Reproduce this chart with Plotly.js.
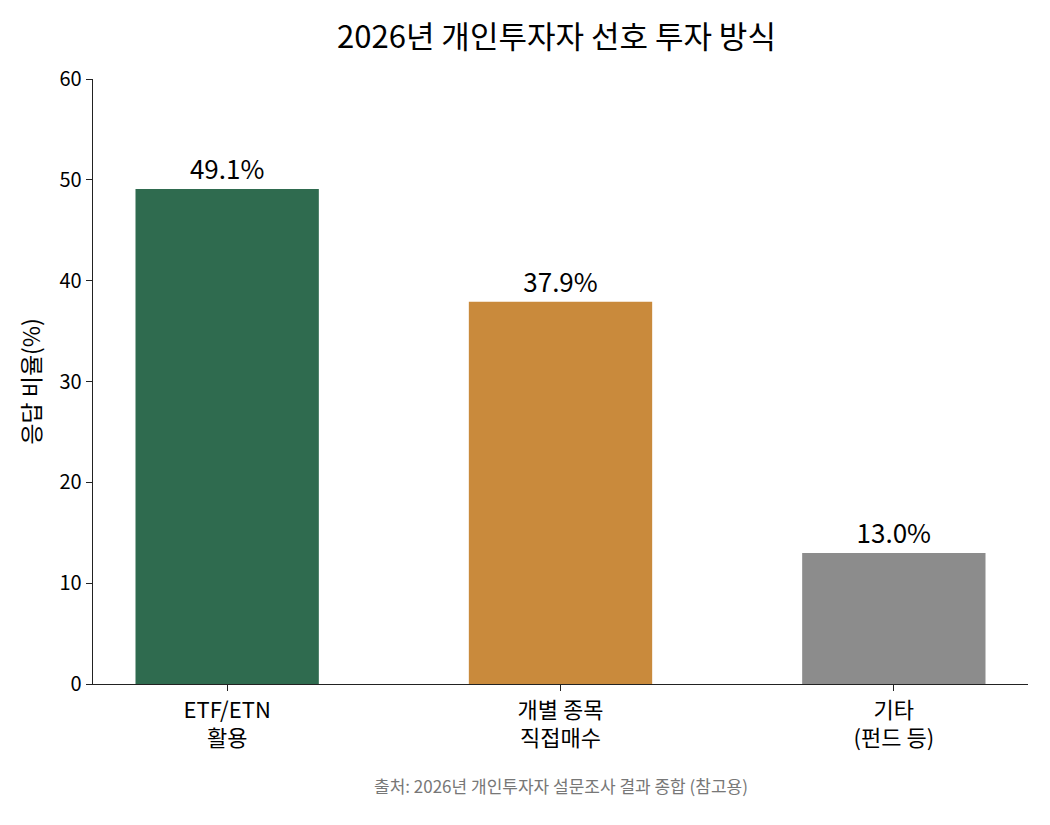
<!DOCTYPE html>
<html>
<head>
<meta charset="utf-8">
<script src="https://cdn.plot.ly/plotly-3.0.1.min.js"></script>
<style>
  body { margin: 0; background: #fff; }
  #chart { width: 1050px; height: 825px; }
</style>
</head>
<body>
<div id="chart"></div>
<script>
// 2026 individual investor preferred method
const categories = ['ETF/ETN<br>활용', '개별 종목<br>직접매수', '기타<br>(펀드 등)'];
const shares = [49.1, 37.9, 13.0];
const barColors = ['#2f6b4f', '#c98a3c', '#8c8c8c'];
const yTicks = [0, 10, 20, 30, 40, 50, 60];

const FONT = '"Noto Sans CJK KR", "Noto Sans", sans-serif';

const trace = {
    x: [0, 1, 2],
    y: shares,
    type: 'bar',
    width: 0.55,
    marker: { color: barColors },
    text: shares.map(v => v.toFixed(1) + '%'),
    textposition: 'outside',
    textfont: { size: 26, color: '#000', family: FONT },
    cliponaxis: false,
    hoverinfo: 'skip'
};

const layout = {
    width: 1050,
    height: 825,
    margin: { t: 79, r: 22, b: 141, l: 93 },
    paper_bgcolor: '#fff',
    plot_bgcolor: '#fff',
    font: { family: FONT, color: '#000' },
    showlegend: false,
    title: {
        text: '2026년 개인투자자 선호 투자 방식',
        font: { size: 31, family: FONT, color: '#000' },
        x: 0.53, xanchor: 'center',
        y: 0.955, yanchor: 'middle'
    },
    xaxis: {
        range: [-0.4025, 2.4025],
        tickmode: 'array',
        tickvals: [0, 1, 2],
        ticktext: categories,
        ticks: 'outside', ticklen: 6, tickcolor: '#222',
        tickfont: { size: 22, family: FONT, color: '#000' },
        showline: true, linecolor: '#222', linewidth: 1.3,
        showgrid: false, zeroline: false
    },
    yaxis: {
        range: [0, 60],
        tickmode: 'array',
        tickvals: yTicks,
        ticks: 'outside', ticklen: 6, tickcolor: '#222',
        tickfont: { size: 20, family: FONT, color: '#000' },
        showline: true, linecolor: '#222', linewidth: 1.3,
        showgrid: false, zeroline: false,
        title: { text: '응답 비율(%)', font: { size: 23, family: FONT, color: '#000' }, standoff: 12 }
    },
    annotations: [
        {
            text: '출처: 2026년 개인투자자 설문조사 결과 종합 (참고용)',
            xref: 'paper', yref: 'paper',
            x: 0.5, y: -0.168,
            xanchor: 'center', yanchor: 'middle',
            showarrow: false,
            font: { size: 17, family: FONT, color: '#777' }
        }
    ]
};

Plotly.newPlot('chart', [trace], layout, { displayModeBar: false, staticPlot: true });
</script>
</body>
</html>
